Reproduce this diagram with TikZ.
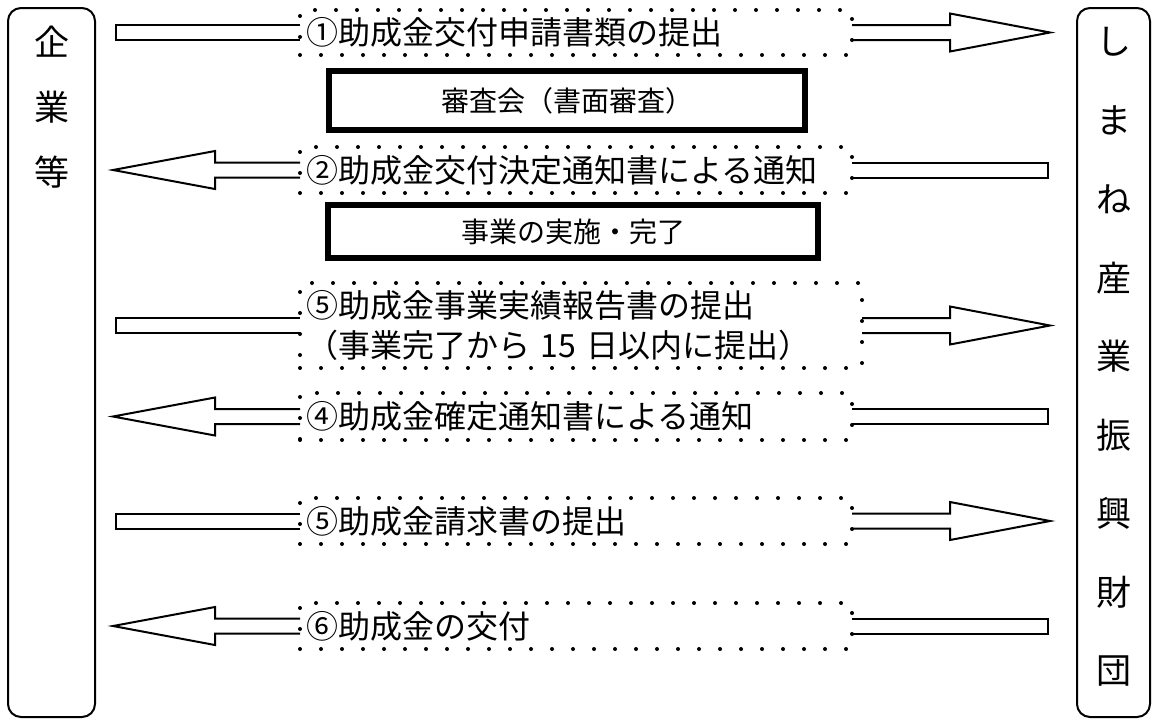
\documentclass[tikz,border=0pt]{standalone}
\usepackage{fontspec}
\setmainfont{Noto Sans CJK JP}
\usetikzlibrary{calc}
\tikzset{
  dotbox/.style={draw, line width=4pt, dash pattern=on 0pt off 21pt, line cap=round,
    outer sep=0pt, inner xsep=6pt, align=left, font=\fontsize{32}{40}\selectfont},
  thickbox/.style={draw, line width=6pt, outer sep=0pt, font=\fontsize{28}{34}\selectfont},
  sidebox/.style={draw, line width=2pt, rounded corners=13pt, outer sep=0pt},
  sidechar/.style={font=\fontsize{35}{35}\selectfont},
  blockarrow/.style={draw, line width=2pt, line join=miter},
}
\begin{document}
\begin{tikzpicture}[x=1pt,y=-1pt]
  \useasboundingbox (0,0) rectangle (1158,724);
  % the two parties
  \node[sidebox, minimum width=87pt, minimum height=709pt] (kigyo) at (51.5,362.5) {};
  \node[sidebox, minimum width=73pt, minimum height=709pt] (zaidan) at (1113.5,362.5) {};
  \draw[sidechar]
    (51.5,42) node (k1){企}
    (51.5,107) node (k2){業}
    (51.5,172) node (k3){等};
  \draw[sidechar]
    (1113.5,42) node (z1){し}
    (1113.5,120.6) node (z2){ま}
    (1113.5,199.2) node (z3){ね}
    (1113.5,277.8) node (z4){産}
    (1113.5,356.4) node (z5){業}
    (1113.5,435) node (z6){振}
    (1113.5,513.6) node (z7){興}
    (1113.5,592.2) node (z8){財}
    (1113.5,670.8) node (z9){団};
  % steps
  \node[dotbox, text width=540pt, minimum height=45pt] (s1) at (576,32.5) {①助成金交付申請書類の提出};
  \node[thickbox, minimum width=476pt, minimum height=59pt] (t1) at (567,100.5) {審査会（書面審査）};
  \node[dotbox, text width=540pt, minimum height=46pt] (s2) at (576,170) {②助成金交付決定通知書による通知};
  \node[thickbox, minimum width=490pt, minimum height=53pt] (t2) at (573,231.5) {事業の実施・完了};
  \node[dotbox, text width=550pt, minimum height=85pt] (s3) at (581,325.5) {⑤助成金事業実績報告書の提出\\（事業完了から 15 日以内に提出）};
  \node[dotbox, text width=540pt, minimum height=47pt] (s4) at (576,416.5) {④助成金確定通知書による通知};
  \node[dotbox, text width=540pt, minimum height=46pt] (s5) at (576,521) {⑤助成金請求書の提出};
  \node[dotbox, text width=540pt, minimum height=46pt] (s6) at (576,626) {⑥助成金の交付};
  % ends of the block arrows
  \coordinate (l1) at ($(kigyo.east |- s1.west)+(21,0)$);
  \coordinate (l2) at ($(kigyo.east |- s2.west)+(18,0)$);
  \coordinate (l3) at ($(kigyo.east |- s3.west)+(18,0)$);
  \coordinate (l4) at ($(kigyo.east |- s4.west)+(18,0)$);
  \coordinate (l5) at ($(kigyo.east |- s5.west)+(21,0)$);
  \coordinate (l6) at ($(kigyo.east |- s6.west)+(18,0)$);
  \coordinate (r1) at ($(zaidan.west |- s1.east)+(-27,0)$);
  \coordinate (r2) at ($(zaidan.west |- s2.east)+(-29,0)$);
  \coordinate (r3) at ($(zaidan.west |- s3.east)+(-27,0)$);
  \coordinate (r4) at ($(zaidan.west |- s4.east)+(-29,0)$);
  \coordinate (r5) at ($(zaidan.west |- s5.east)+(-27,0)$);
  \coordinate (r6) at ($(zaidan.west |- s6.east)+(-29,0)$);
  \begin{scope}[blockarrow]
    \draw ($(s1.west)+(0,-7.5)$) -- ($(l1)+(0,-7.5)$) -- ($(l1)+(0,7.5)$) -- ($(s1.west)+(0,7.5)$);
    \draw ($(s1.east)+(0,-7.5)$) -- ($(r1)+(-100,-7.5)$) -- ($(r1)+(-100,-19)$) -- (r1)
      -- ($(r1)+(-100,19)$) -- ($(r1)+(-100,7.5)$) -- ($(s1.east)+(0,7.5)$);
    \draw ($(s2.west)+(0,-7.5)$) -- ($(l2)+(102,-7.5)$) -- ($(l2)+(102,-19)$) -- (l2)
      -- ($(l2)+(102,19)$) -- ($(l2)+(102,7.5)$) -- ($(s2.west)+(0,7.5)$);
    \draw ($(s2.east)+(0,-7.5)$) -- ($(r2)+(0,-7.5)$) -- ($(r2)+(0,7.5)$) -- ($(s2.east)+(0,7.5)$);
    \draw ($(s3.west)+(0,-7.5)$) -- ($(l3)+(3,-7.5)$) -- ($(l3)+(3,7.5)$) -- ($(s3.west)+(0,7.5)$);
    \draw ($(s3.east)+(0,-7.5)$) -- ($(r3)+(-100,-7.5)$) -- ($(r3)+(-100,-19)$) -- (r3)
      -- ($(r3)+(-100,19)$) -- ($(r3)+(-100,7.5)$) -- ($(s3.east)+(0,7.5)$);
    \draw ($(s4.west)+(0,-7.5)$) -- ($(l4)+(102,-7.5)$) -- ($(l4)+(102,-19)$) -- (l4)
      -- ($(l4)+(102,19)$) -- ($(l4)+(102,7.5)$) -- ($(s4.west)+(0,7.5)$);
    \draw ($(s4.east)+(0,-7.5)$) -- ($(r4)+(0,-7.5)$) -- ($(r4)+(0,7.5)$) -- ($(s4.east)+(0,7.5)$);
    \draw ($(s5.west)+(0,-7.5)$) -- ($(l5)+(0,-7.5)$) -- ($(l5)+(0,7.5)$) -- ($(s5.west)+(0,7.5)$);
    \draw ($(s5.east)+(0,-7.5)$) -- ($(r5)+(-100,-7.5)$) -- ($(r5)+(-100,-19)$) -- (r5)
      -- ($(r5)+(-100,19)$) -- ($(r5)+(-100,7.5)$) -- ($(s5.east)+(0,7.5)$);
    \draw ($(s6.west)+(0,-7.5)$) -- ($(l6)+(102,-7.5)$) -- ($(l6)+(102,-19)$) -- (l6)
      -- ($(l6)+(102,19)$) -- ($(l6)+(102,7.5)$) -- ($(s6.west)+(0,7.5)$);
    \draw ($(s6.east)+(0,-7.5)$) -- ($(r6)+(0,-7.5)$) -- ($(r6)+(0,7.5)$) -- ($(s6.east)+(0,7.5)$);
  \end{scope}
\end{tikzpicture}
\end{document}
